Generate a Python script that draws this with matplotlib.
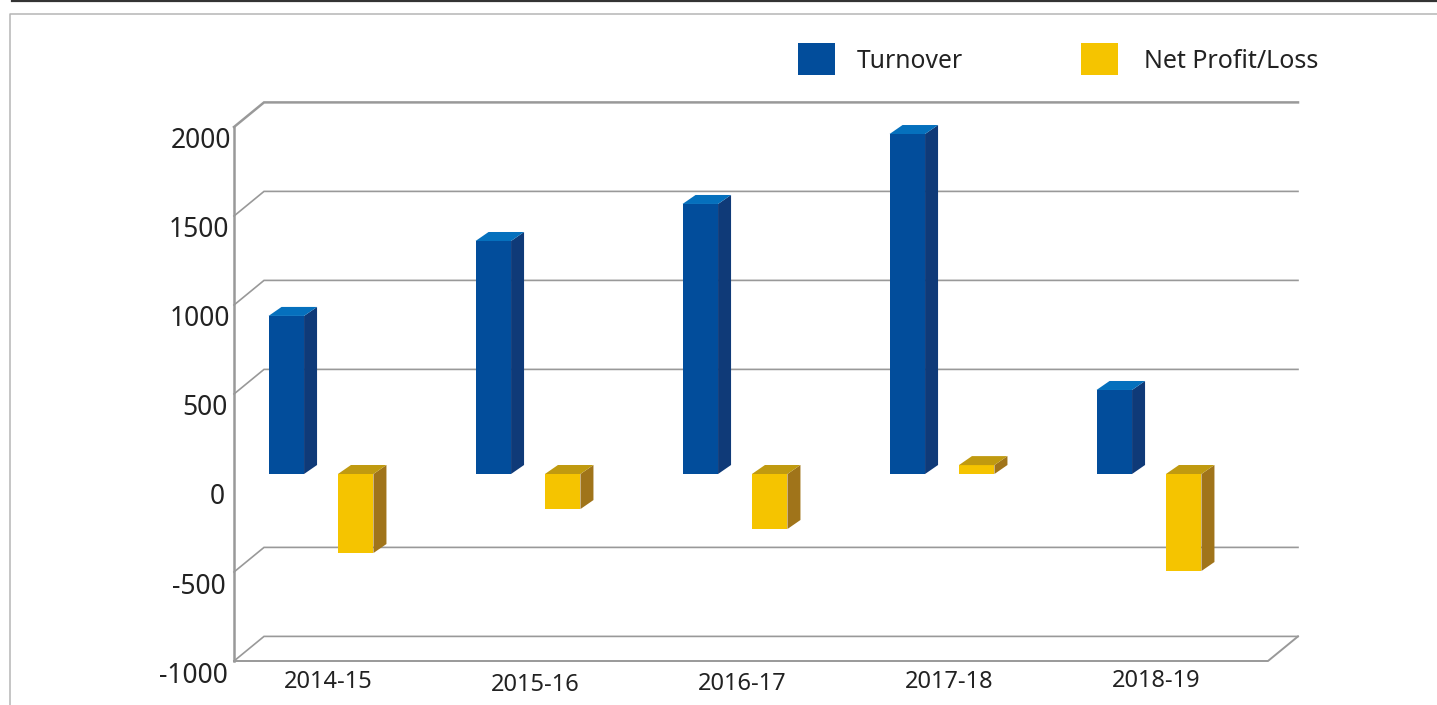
"""Turnover and net profit/loss, pseudo-3D bar chart."""
import matplotlib
matplotlib.use('Agg')
import matplotlib.pyplot as plt
from matplotlib.lines import Line2D
from matplotlib.patches import Polygon, Rectangle

plt.rcParams['font.family'] = ['Noto Sans', 'DejaVu Sans']

years = ['2014-15', '2015-16', '2016-17', '2017-18', '2018-19']
turnover = [888, 1309, 1517, 1910, 472]
net_profit = [-444, -197, -309, 50, -545]
y_ticks = [2000, 1500, 1000, 500, 0, -500, -1000]

W, H = 1437, 705
PX_PER_GROUP = 207
PX_PER_UNIT = 0.178  # 89 px per 500
X0_PX, Y0_PX = 321, 474  # where group 0 / value 0 sit

BLUE = ('#024d9b', '#0f3a78', '#0570bd')
YELLOW = ('#f5c400', '#a0741a', '#c09a10')
GRID = '#999999'
TEXT = '#222222'


def fx(px):
    return px / W


def fy(py):
    return 1 - py / H


def dx(px):
    return px / PX_PER_GROUP


def dy(px):
    return px / PX_PER_UNIT


fig = plt.figure(figsize=(W / 100, H / 100), dpi=100)
ax = fig.add_axes([0, 0, 1, 1])
ax.set_xlim(-X0_PX / PX_PER_GROUP, (W - X0_PX) / PX_PER_GROUP)
ax.set_ylim((Y0_PX - H) / PX_PER_UNIT, Y0_PX / PX_PER_UNIT)
ax.axis('off')

# outer frame, only top and left show
fig.add_artist(Line2D([fx(12), 1], [fy(0.5), fy(0.5)], color='#333333', lw=1.6))
fig.add_artist(Line2D([fx(10), fx(10), 1], [0, fy(14), fy(14)], color='#b5b5b5', lw=1.1))

# walls: back plane is up and right of the bars' plane, front 9 px down
xmin = ax.get_xlim()[0]
back_x0, back_x1 = xmin + dx(264), xmin + dx(1298)
front_x0, front_x1 = xmin + dx(234), xmin + dx(1268)
back_dy, front_dy = dy(15.6), -dy(9)

for v in y_ticks:
    if v == 0:
        continue
    lw = 1.8 if v == 2000 else 1.2
    ax.plot([front_x0, back_x0, back_x1], [v + front_dy, v + back_dy, v + back_dy],
            color=GRID, lw=lw, zorder=1, solid_joinstyle='miter')
ax.plot([front_x0, front_x0], [2000 + front_dy, -1000 + front_dy], color=GRID, lw=1.8, zorder=1)
ax.plot([front_x0, front_x1, back_x1], [-1000 + front_dy, -1000 + front_dy, -1000 + back_dy],
        color=GRID, lw=1.4, zorder=1)

# y labels sit a bit under the front plane, right edges are not quite aligned
label_right = [231, 229, 230, 228, 225, 226, 228]
for v, r in zip(y_ticks, label_right):
    ax.text(xmin + dx(r), v + front_dy - dy(13.5 + (2000 - v) * 0.0005), f'{v}',
            ha='right', va='center', fontsize=19, color=TEXT)

# category labels wander up and down a little in the original
label_drop = [208, 211, 210, 208, 207]
for i, yr in enumerate(years):
    ax.text(i + dx(7), -dy(label_drop[i]), yr, ha='center', va='center', fontsize=17, color=TEXT)

w = 35.5 / PX_PER_GROUP
offset = 34.7 / PX_PER_GROUP
xs = list(range(len(years)))
depth_x, depth_y = dx(13), dy(9)


def bars_3d(positions, values, colors):
    front, side, top = colors
    bars = ax.bar(positions, values, width=w, color=front, zorder=3)
    for b in bars:
        x0, x1 = b.get_x(), b.get_x() + b.get_width()
        y0, y1 = sorted([b.get_y(), b.get_y() + b.get_height()])
        ax.add_patch(Polygon([(x1, y0), (x1 + depth_x, y0 + depth_y),
                              (x1 + depth_x, y1 + depth_y), (x1, y1)],
                             facecolor=side, edgecolor='none', zorder=3))
        ax.add_patch(Polygon([(x0, y1), (x1, y1), (x1 + depth_x, y1 + depth_y),
                              (x0 + depth_x, y1 + depth_y)],
                             facecolor=top, edgecolor='none', zorder=3))


bars_3d([x - offset for x in xs], turnover, BLUE)
bars_3d([x + offset for x in xs], net_profit, YELLOW)

# legend
for x_px, color, label, tx, fs in [(798, BLUE[0], 'Turnover', 857, 17.7),
                                   (1081, YELLOW[0], 'Net Profit/Loss', 1144, 18)]:
    fig.add_artist(Rectangle((fx(x_px), fy(75)), 37 / W, 32 / H, transform=fig.transFigure,
                             facecolor=color, edgecolor='none'))
    fig.text(fx(tx), fy(61), label, ha='left', va='center', fontsize=fs, color=TEXT)

fig.savefig('out.png', dpi=100)
